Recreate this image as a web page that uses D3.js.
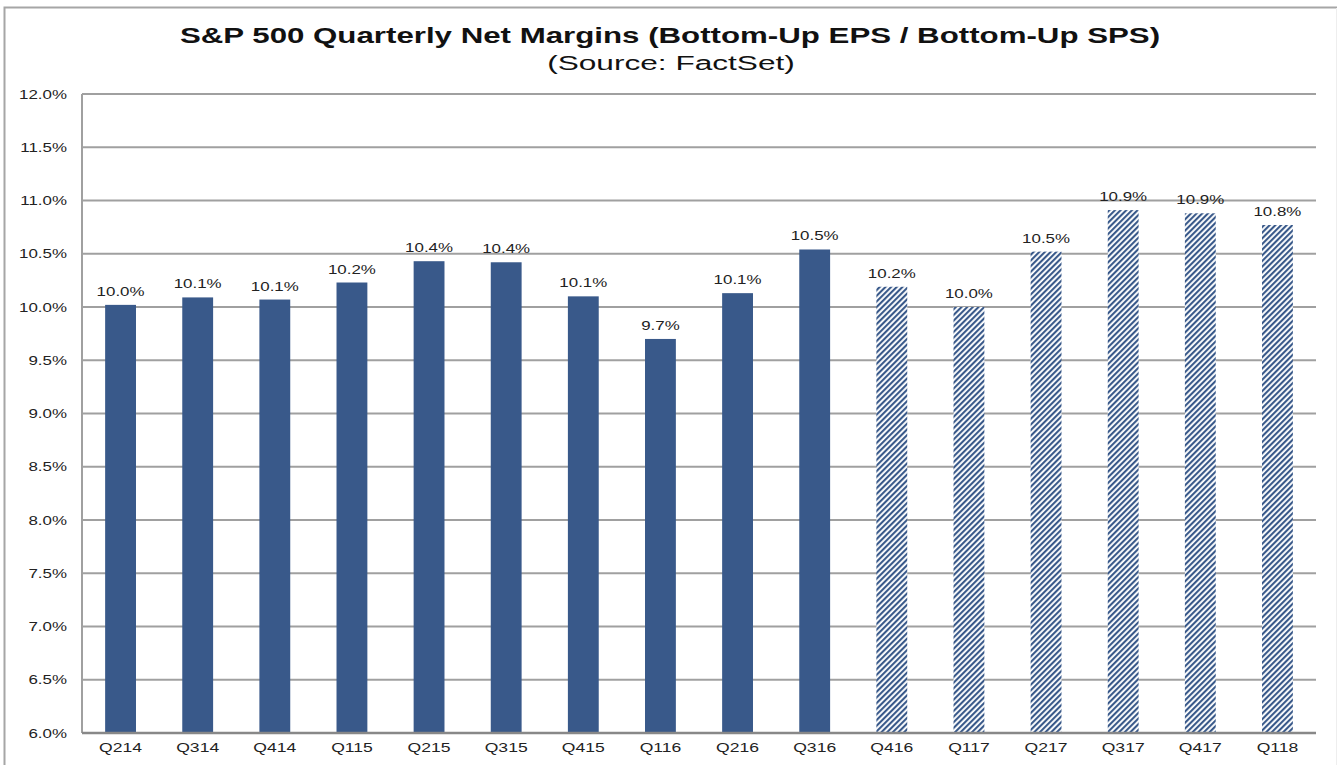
<!DOCTYPE html>
<html><head><meta charset="utf-8">
<script src="https://cdn.jsdelivr.net/npm/d3@7/dist/d3.min.js"></script>
<style>body{margin:0;background:#fff}svg{display:block}</style>
</head><body>
<svg id="c" width="1337" height="765"></svg>
<script>
const categories = ["Q214","Q314","Q414","Q115","Q215","Q315","Q415","Q116","Q216","Q316","Q416","Q117","Q217","Q317","Q417","Q118"];
const margins = [10.02,10.09,10.07,10.23,10.43,10.42,10.10,9.70,10.13,10.54,10.19,10.00,10.52,10.91,10.88,10.77];
const labels = ["10.0%","10.1%","10.1%","10.2%","10.4%","10.4%","10.1%","9.7%","10.1%","10.5%","10.2%","10.0%","10.5%","10.9%","10.9%","10.8%"];
const estimated = [false,false,false,false,false,false,false,false,false,false,true,true,true,true,true,true];
const yTicks = [6.0,6.5,7.0,7.5,8.0,8.5,9.0,9.5,10.0,10.5,11.0,11.5,12.0];
const title = "S&P 500 Quarterly Net Margins (Bottom-Up EPS / Bottom-Up SPS)";
const subtitle = "(Source: FactSet)";

const svg = d3.select("#c");
const barColor = "#39598a";
const FONT = "Liberation Sans, Arial, sans-serif";
const L = 82, R = 1316, T = 94, B = 733;

function stretch(sel, f){
  sel.each(function(){
    const w = this.getComputedTextLength();
    d3.select(this).attr("textLength", w*f).attr("lengthAdjust","spacingAndGlyphs");
  });
}

// outer frame
svg.append("path").attr("d","M4.5,765 V7.5 H1337").attr("fill","none").attr("stroke","#a6a6a6").attr("stroke-width",2);
svg.append("line").attr("x1",1336.5).attr("x2",1336.5).attr("y1",8).attr("y2",765).attr("stroke","#eee");

const defs = svg.append("defs");
const pat = defs.append("pattern").attr("id","hatch").attr("patternUnits","userSpaceOnUse")
  .attr("width",4).attr("height",4).attr("patternTransform","rotate(45)");
pat.append("rect").attr("width",4).attr("height",4).attr("fill","#fff");
pat.append("rect").attr("x",0).attr("width",2.1).attr("height",4).attr("fill",barColor);

const x = d3.scaleBand().domain(categories).range([L,R]).paddingInner(0.6).paddingOuter(0.3);
const y = d3.scaleLinear().domain([6,12]).range([B,T]);

// gridlines
svg.append("g").selectAll("line").data(yTicks.filter(t=>t>6)).join("line")
  .attr("x1",L).attr("x2",R).attr("y1",d=>y(d)).attr("y2",d=>y(d))
  .attr("stroke","#a0a0a0").attr("stroke-width",2);
svg.append("line").attr("x1",L).attr("x2",L).attr("y1",T).attr("y2",B).attr("stroke","#a0a0a0").attr("stroke-width",2);

// y axis labels
const yAxis = d3.axisLeft(y).tickValues(yTicks).tickFormat(d=>d.toFixed(1)+"%").tickSize(0).tickPadding(15);
const ya = svg.append("g").attr("transform",`translate(${L},0)`).call(yAxis);
ya.select(".domain").remove();
ya.selectAll("text").attr("font-family",FONT).attr("font-size",13).attr("fill","#222").call(stretch,1.3);

// bars
svg.append("g").selectAll("rect").data(categories).join("rect")
  .attr("x",d=>x(d)).attr("width",x.bandwidth())
  .attr("y",(d,i)=>y(margins[i])).attr("height",(d,i)=>B-y(margins[i]))
  .attr("fill",(d,i)=>estimated[i]?"url(#hatch)":barColor);

// value labels
svg.append("g").selectAll("text").data(categories).join("text")
  .attr("x",d=>x(d)+x.bandwidth()/2).attr("y",(d,i)=>y(margins[i])-9)
  .attr("text-anchor","middle").attr("font-family",FONT)
  .attr("font-size",13).attr("fill","#222").text((d,i)=>labels[i]).call(stretch,1.3);

// x axis
svg.append("line").attr("x1",L).attr("x2",R).attr("y1",B).attr("y2",B).attr("stroke","#888").attr("stroke-width",2.5);
const xAxis = d3.axisBottom(x).tickSize(0).tickPadding(10);
const xa = svg.append("g").attr("transform",`translate(0,${B})`).call(xAxis);
xa.select(".domain").remove();
xa.selectAll("text").attr("font-family",FONT).attr("font-size",13).attr("fill","#222").call(stretch,1.35);

// titles
svg.append("text").attr("x",670).attr("y",43).attr("text-anchor","middle")
  .attr("font-family",FONT).attr("font-weight","bold").attr("font-size",22)
  .attr("fill","#111").text(title).call(stretch,1.42);
svg.append("text").attr("x",671).attr("y",70).attr("text-anchor","middle")
  .attr("font-family",FONT).attr("font-size",20)
  .attr("fill","#111").text(subtitle).call(stretch,1.58);
</script>
</body></html>
